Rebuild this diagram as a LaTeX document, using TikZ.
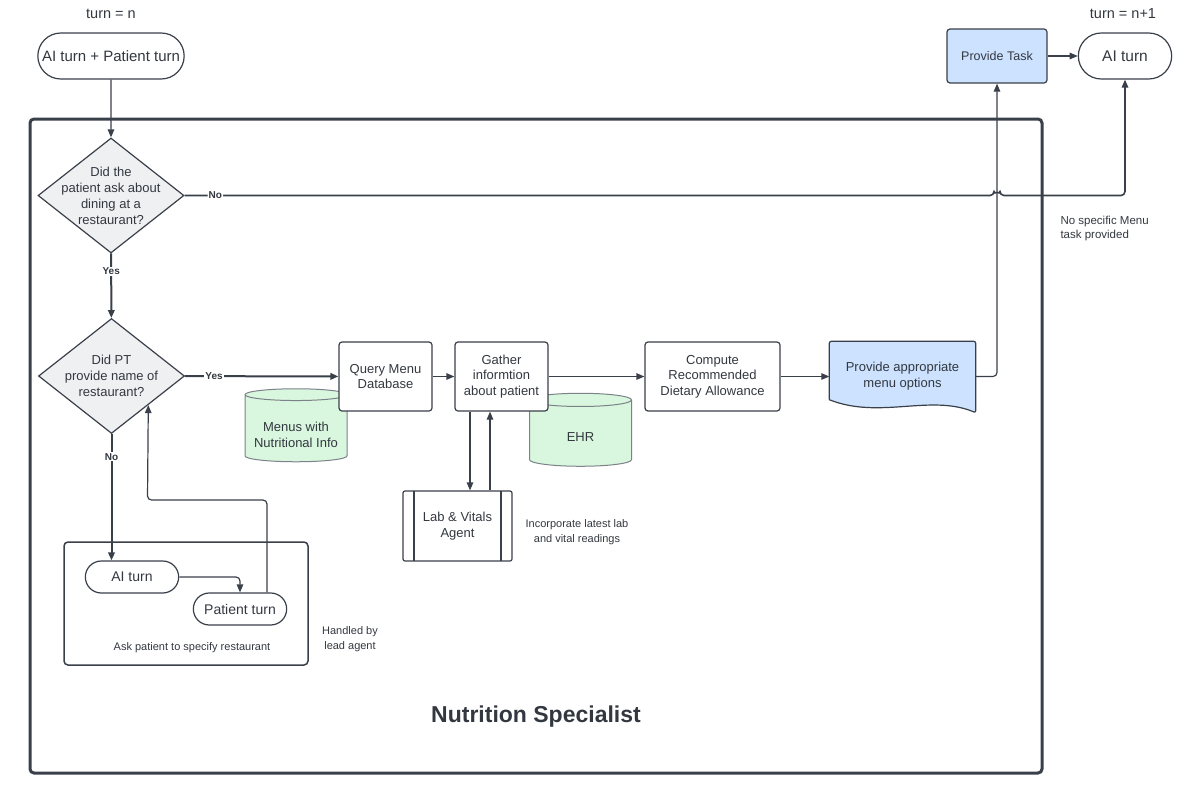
\documentclass[tikz,border=0pt]{standalone}
\usepackage{fontspec}
\setmainfont{Liberation Sans}
\usetikzlibrary{positioning,shapes.geometric,shapes.misc,arrows.meta,backgrounds}

\definecolor{ink}{HTML}{3A4049}
\definecolor{txt}{HTML}{333840}
\definecolor{decfill}{HTML}{EFF0F2}
\definecolor{dbfill}{HTML}{D9F6DE}
\definecolor{dbline}{HTML}{7C8289}
\definecolor{taskfill}{HTML}{CCE2FF}

\tikzset{
  flow/.style={draw=ink, line width=1.2pt, -{Triangle[length=8pt,width=6.5pt]}},
  flowbold/.style={flow, line width=2pt},
  proc/.style={draw=ink, line width=1.2pt, fill=white, rounded corners=3pt,
    minimum width=93pt, minimum height=69pt, align=center, text=txt,
    font=\fontsize{13}{15.5}\selectfont},
  term/.style={rounded rectangle, draw=ink, line width=1.2pt, fill=white,
    align=center, text=txt},
  decision/.style={diamond, draw=ink, line width=1.2pt, fill=decfill,
    minimum width=146pt, minimum height=115pt, inner sep=0pt},
  dtext/.style={align=center, text=txt, font=\fontsize{13}{16}\selectfont},
  db/.style={cylinder, shape border rotate=90, aspect=0.13, draw=dbline,
    fill=dbfill, line width=1pt, minimum width=102pt, minimum height=73pt,
    text=txt, font=\fontsize{13}{16}\selectfont},
  subproc/.style={proc, rounded corners=2pt, minimum width=109pt, minimum height=70pt,
    path picture={
      \draw[ink, line width=1.2pt] ([xshift=11pt]path picture bounding box.north west)
        -- ([xshift=11pt]path picture bounding box.south west);
      \draw[ink, line width=1.2pt] ([xshift=-11pt]path picture bounding box.north east)
        -- ([xshift=-11pt]path picture bounding box.south east);}},
  answer/.style={font=\fontsize{10}{12}\selectfont\bfseries, fill=white,
    inner sep=1pt, text=txt},
  note/.style={align=center, text=txt, font=\fontsize{11}{14.5}\selectfont},
}

\begin{document}
\begin{tikzpicture}[x=1pt, y=-1pt, node distance=100pt, on grid]
\useasboundingbox (0,0) rectangle (1199,790);

% outer agent frame
\node[draw=ink, line width=3pt, rounded corners=4pt, minimum width=1012pt,
  minimum height=654pt] (frame) at (536,446) {};
\node[text=txt, font=\fontsize{23}{27}\selectfont\bfseries] (title) at (536,717) {Nutrition Specialist};

% turns
\node[text=txt, font=\fontsize{14.5}{17}\selectfont] (turnn) at (111,14) {turn = n};
\node[term, minimum width=153pt, minimum height=46pt, font=\fontsize{15}{18}\selectfont]
  (start) at (111,56) {AI turn + Patient turn};
\node[text=txt, font=\fontsize{14.5}{17}\selectfont] (turnn1) at (1123,14) {turn = n+1};
\node[term, minimum width=100pt, minimum height=46pt, font=\fontsize{15.5}{18}\selectfont]
  (ai2) at (1125,56) {AI turn};
\node[proc, fill=taskfill, minimum width=100pt, minimum height=54pt,
  font=\fontsize{12.5}{15}\selectfont] (task) at (997,56) {Provide Task};

% decisions
\node[decision, label={[dtext]center:{Did the\\patient ask about\\dining at a\\restaurant?}}]
  (d1) at (111,195.5) {};
\node[decision, label={[dtext]center:{Did PT\\provide name of\\restaurant?}}]
  (d2) at (111.5,376) {};

% data stores (behind the boxes)
\node[db] (menus) at (296,429.5)
  {\raisebox{-7pt}[\height][\depth]{\begin{tabular}{@{}c@{}}Menus with\\Nutritional Info\end{tabular}}};
\node[db] (ehr) at (580.5,434.5)
  {\makebox[95pt]{\raisebox{-3pt}[\height][\depth]{EHR}}};

% main row
\node[proc] (query) at (385.5,376.5) {Query Menu\\Database};
\node[proc] (gather) [right=116pt of query] {Gather\\informtion\\about patient};
\node[proc, minimum width=135pt] (compute) [right=211pt of gather] {Compute\\Recommended\\Dietary Allowance};
\node[align=center, text=txt, font=\fontsize{13}{16}\selectfont, minimum width=146pt,
  minimum height=70pt] (doc) [right=190pt of compute] {Provide appropriate\\menu options};
\begin{pgfonlayer}{background}
\draw[draw=ink, line width=1.2pt, fill=taskfill, rounded corners=2pt]
  ([yshift=12pt]doc.south west) -- (doc.north west) -- (doc.north east)
  -- ([yshift=-1pt]doc.south east) [sharp corners]
  .. controls +(-45pt,19pt) and +(50pt,-20pt) .. ([yshift=12pt]doc.south west);
\end{pgfonlayer}

% lab agent
\node[subproc] (lab) at (457.5,526) {Lab \& Vitals\\Agent};
\node[note] (labnote) at (577,532) {Incorporate latest lab\\and vital readings};

% ask patient box
\node[draw=ink, line width=1.5pt, rounded corners=4pt, minimum width=244pt,
  minimum height=123pt] (askbox) at (186,603.5) {};
\node[term, minimum width=100pt, minimum height=32pt, font=\fontsize{14}{17}\selectfont]
  (aiA) at (132,577) {AI turn};
\node[term, minimum width=100pt, minimum height=32pt, font=\fontsize{14}{17}\selectfont]
  (ptA) at (240,609) {Patient turn};
\node[note] (asklbl) at (192,648) {Ask patient to specify restaurant};
\node[note] (handled) at (350,639) {Handled by\\lead agent};

\node[note, align=left, anchor=west, font=\fontsize{11.5}{14}\selectfont]
  (nomenu) at (1057,229) {No specific Menu\\task provided};

% connectors
\draw[flow] (start) -- (d1);
\draw[flowbold] (d1) -- node[answer, pos=0.28] {Yes} (d2);
\draw[flow, line width=1.6pt, rounded corners=4pt] (d1.east)
  -- node[answer, pos=0.038] {No} ([xshift=-3pt]d1.east -| task.south)
  arc[start angle=180, end angle=0, radius=3pt] -| (ai2.south);
\draw[flowbold] (d2) -- node[answer, pos=0.19] {Yes} (query);
\draw[flow] (query) -- (gather);
\draw[flow] (gather) -- (compute);
\draw[flow] (compute) -- (doc);
\draw[flow, rounded corners=4pt] (doc.east) -| (task.south);
\draw[flow] (task) -- (ai2);
\draw[flow] ([xshift=-31.5pt]gather.south) -- ([xshift=-31.5pt]gather.south |- lab.north);
\draw[flow] ([xshift=-11.5pt]gather.south |- lab.north) -- ([xshift=-11.5pt]gather.south);
\draw[flowbold] (d2.south) -- node[answer, pos=0.18] {No} (d2.south |- aiA.north);
\draw[flow, rounded corners=4pt] (aiA.east) -| (ptA.north);
\coordinate (back) at (147.5,500);
\draw[flow, rounded corners=4pt] ([xshift=27pt]ptA.north) |- (back) -- (d2.south east);
\end{tikzpicture}
\end{document}
